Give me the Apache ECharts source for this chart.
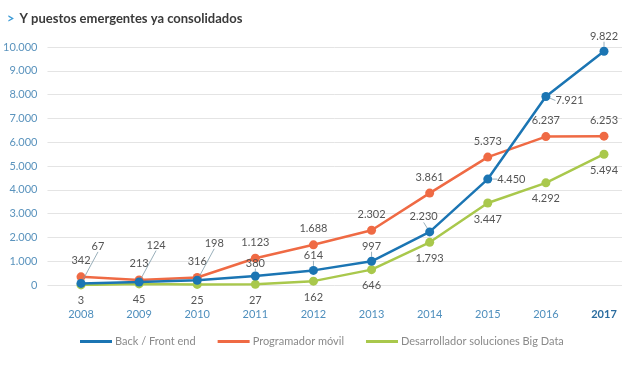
<!DOCTYPE html>
<html><head><meta charset="utf-8">
<script src="https://cdn.jsdelivr.net/npm/echarts@6/dist/echarts.min.js"></script>
<style>html,body{margin:0;padding:0;background:#fff}#c{width:640px;height:374px}</style>
</head><body><div id="c"></div>
<script>
const years = ['2008','2009','2010','2011','2012','2013','2014','2015','2016','2017'];
const backFront = [67,124,198,380,614,997,2230,4450,7921,9822];
const movil = [342,213,316,1123,1688,2302,3861,5373,6237,6253];
const bigData = [3,45,25,27,162,646,1793,3447,4292,5494];
const seriesNames = ['Back / Front end','Programador móvil','Desarrollador soluciones Big Data'];
const colors = ['#1b75b3','#ef6a44','#a9c84c'];
const yTicks = [0,1000,2000,3000,4000,5000,6000,7000,8000,9000,10000];

const fmt = v => String(v).replace(/\B(?=(\d{3})+(?!\d))/g,'.');
const FONT = 'Lato, "Open Sans", sans-serif';

const bluePos = ['top','top','top','top','top','top','top','right','right','top'];

const chart = echarts.init(document.getElementById('c'));
chart.setOption({
  animation:false,
  title:{
    text:'{a|>} {b|Y puestos emergentes ya consolidados}',
    left:2, top:5,
    textStyle:{rich:{
      a:{color:'#3a9ad6',fontSize:13,fontWeight:'bold',fontFamily:FONT},
      b:{color:'#3a3a3a',fontSize:13,fontWeight:'bold',fontFamily:FONT}
    }}
  },
  legend:{
    bottom:22, left:75,
    icon:'rect', itemWidth:32, itemHeight:3, itemGap:22,
    textStyle:{color:'#8a8a8a',fontSize:11,fontFamily:FONT,padding:[0,0,0,-2]},
    data: seriesNames
  },
  grid:[
    {left:47,right:18,top:47,bottom:89},
    {left:81,right:36,top:47,bottom:89}
  ],
  xAxis:[
    {gridIndex:0,type:'value',min:0,max:1,show:false},
    {gridIndex:1,type:'category',data:years,boundaryGap:false,
     axisLine:{show:false},axisTick:{show:false},
     axisLabel:{margin:24,fontSize:11,fontFamily:FONT,
       formatter:(v)=> v==='2017' ? '{b|'+v+'}' : v,
       color:'#4f8fbd',
       rich:{b:{fontWeight:'bold',color:'#2a6c9f',fontSize:11,fontFamily:FONT}}}}
  ],
  yAxis:[
    {gridIndex:0,type:'value',min:yTicks[0],max:yTicks[yTicks.length-1],interval:1000,
     axisLine:{show:false},axisTick:{show:false},
     axisLabel:{margin:10,color:'#5a93bd',fontSize:11,fontFamily:FONT,formatter:fmt},
     splitLine:{lineStyle:{color:'#e4e4e4',width:1}}},
    {gridIndex:1,type:'value',min:0,max:10000,show:false,splitLine:{show:false}}
  ],
  series:[
    {name:seriesNames[1],type:'line',xAxisIndex:1,yAxisIndex:1,data:movil,
     color:colors[1],
     symbol:'circle',symbolSize:9,lineStyle:{width:2.5},z:3,
     label:{show:true,position:'top',distance:6,color:'#555',fontSize:11,fontFamily:FONT,formatter:p=>fmt(p.value)}},
    {name:seriesNames[0],type:'line',xAxisIndex:1,yAxisIndex:1,
     color:colors[0],
     data: backFront.map((v,i)=>({value:v,label:{position:bluePos[i]}})),
     symbol:'circle',symbolSize:9,lineStyle:{width:2.5},z:4,
     label:{show:true,distance:5,color:'#555',fontSize:11,fontFamily:FONT,formatter:p=>fmt(p.value)},
     labelLine:{show:true,lineStyle:{color:'#7f9aa8',width:0.8}},
     labelLayout:function(p){
       if(p.dataIndex<=2){ return {dx:17,dy:-22}; }
       if(p.dataIndex===3){ return {dy:2}; }
       if(p.dataIndex===8){ return {dy:4}; }
       if(p.dataIndex===6){ return {dx:-6}; }
       return {};
     }},
    {name:seriesNames[2],type:'line',xAxisIndex:1,yAxisIndex:1,data:bigData,
     color:colors[2],
     symbol:'circle',symbolSize:9,lineStyle:{width:2.5},z:2,
     label:{show:true,position:'bottom',distance:6,color:'#555',fontSize:11,fontFamily:FONT,formatter:p=>fmt(p.value)}}
  ]
});
</script></body></html>
